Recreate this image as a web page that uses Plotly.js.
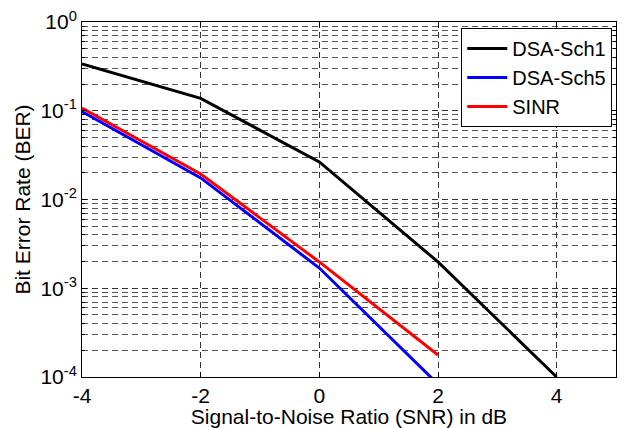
<!DOCTYPE html>
<html>
<head>
<meta charset="utf-8">
<script src="https://cdn.plot.ly/plotly-3.0.1.min.js"></script>
<style>html,body{margin:0;padding:0;background:#fff;}#chart{width:631px;height:428px;}</style>
</head>
<body>
<div id="chart"></div>
<script>
const snr = [-4, -2, 0, 2, 4];
const snrShort = [-4, -2, 0, 2];
const berSch1 = [0.336, 0.138, 0.0265, 0.00198, 0.0001];
const berSch5 = [0.098, 0.0175, 0.00169, 0.000083];
const berSINR = [0.107, 0.0194, 0.00198, 0.000177];
const seriesNames = ['DSA-Sch1', 'DSA-Sch5', 'SINR'];
const yTickVals = [1e-4, 1e-3, 1e-2, 1e-1, 1];
const yTickText = ['10<sup>-4</sup>', '10<sup>-3</sup>', '10<sup>-2</sup>', '10<sup>-1</sup>', '10<sup>0</sup>'];
const xTickVals = [-4, -2, 0, 2, 4];
const xTickText = ['-4', '-2', '0', '2', '4'];

const font = {family: 'Liberation Sans, Arial, sans-serif', color: '#000'};

const traces = [
  {x: snr, y: berSch1, name: seriesNames[0], mode: 'lines', line: {color: '#000000', width: 3}},
  {x: snrShort, y: berSch5, name: seriesNames[1], mode: 'lines', line: {color: '#0000ff', width: 3}},
  {x: snrShort, y: berSINR, name: seriesNames[2], mode: 'lines', line: {color: '#ff0000', width: 3}}
];

const layout = {
  width: 631, height: 428,
  margin: {l: 82, r: 15, t: 22, b: 51, pad: 0},
  paper_bgcolor: '#fff', plot_bgcolor: '#fff',
  font: Object.assign({size: 21}, font),
  showlegend: true,
  legend: {
    x: 0.993, y: 0.983, xanchor: 'right', yanchor: 'top',
    bgcolor: '#fff', bordercolor: '#000', borderwidth: 1,
    font: Object.assign({size: 20}, font),
    itemwidth: 40,
    tracegroupgap: 0
  },
  xaxis: {
    range: [-4, 5], tickmode: 'array', tickvals: xTickVals, ticktext: xTickText,
    ticks: 'inside', ticklen: 5, tickcolor: '#000',
    showline: true, linecolor: '#000', linewidth: 1, mirror: 'allticks',
    showgrid: true, gridcolor: '#333', griddash: '6px,4px', gridwidth: 1,
    zeroline: false,
    tickfont: Object.assign({size: 21}, font),
    title: {text: 'Signal-to-Noise Ratio (SNR) in dB', font: Object.assign({size: 21}, font), standoff: 0}
  },
  yaxis: {
    type: 'log', range: [-4, 0], tickmode: 'array', tickvals: yTickVals, ticktext: yTickText,
    ticks: 'inside', ticklen: 5, tickcolor: '#000',
    showline: true, linecolor: '#000', linewidth: 1, mirror: 'allticks',
    showgrid: true, gridcolor: '#333', griddash: '6px,4px', gridwidth: 1,
    zeroline: false,
    tickfont: Object.assign({size: 21}, font),
    minor: {dtick: 'D1', ticks: 'inside', ticklen: 3, tickcolor: '#000', showgrid: true, gridcolor: '#555', griddash: '6px,4px', gridwidth: 1},
    title: {text: 'Bit Error Rate (BER)', font: Object.assign({size: 21}, font), standoff: 4}
  }
};

Plotly.newPlot('chart', traces, layout, {staticPlot: true, displayModeBar: false});
</script>
</body>
</html>
